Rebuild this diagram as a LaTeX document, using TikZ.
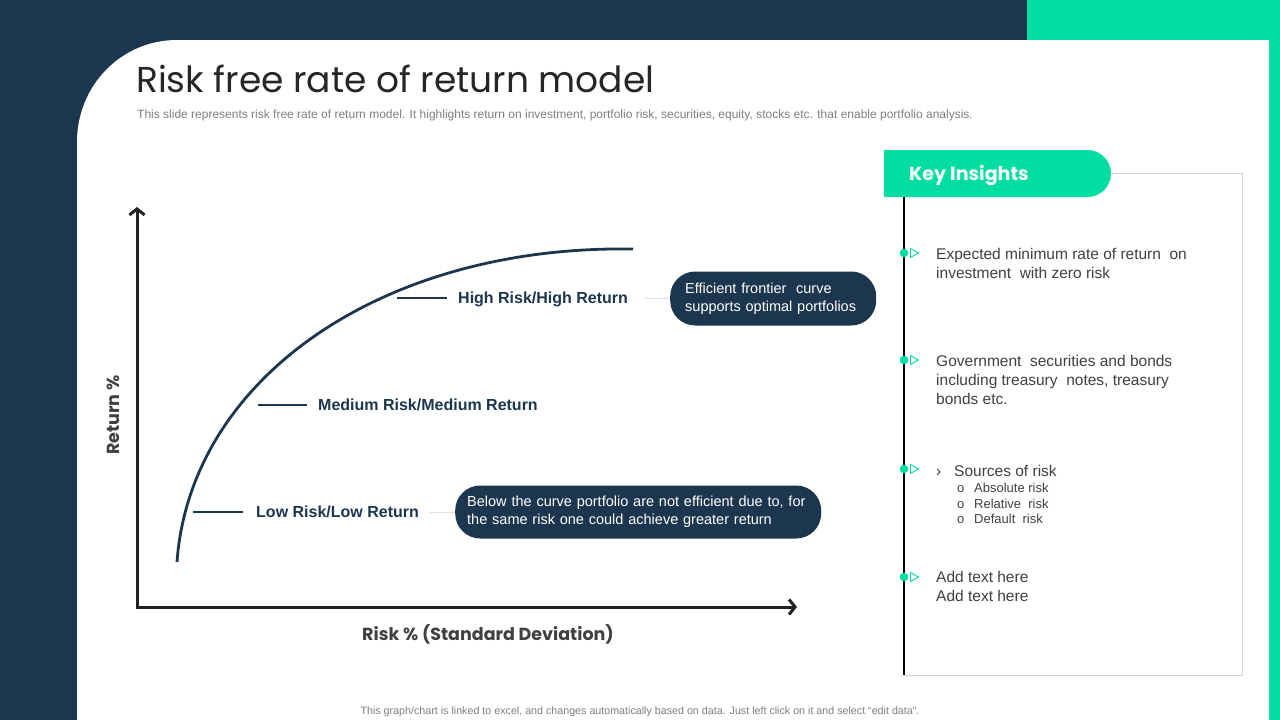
\documentclass[tikz,border=0pt]{standalone}
\usepackage{fontspec}
\setmainfont{Liberation Sans}
\newfontfamily\gothic{Poppins}
\usetikzlibrary{arrows.meta}
\definecolor{navy}{RGB}{28,54,79}
\definecolor{mint}{RGB}{2,221,161}
\definecolor{ink}{RGB}{38,38,38}
\definecolor{bodygray}{RGB}{64,64,64}
\definecolor{subgray}{RGB}{127,127,127}
\definecolor{framegray}{RGB}{212,212,212}
\definecolor{axisink}{RGB}{34,34,34}
\definecolor{conngray}{RGB}{225,225,225}
\tikzset{
  lab/.style={font=\bfseries\fontsize{16}{18}\selectfont, text=navy, inner sep=0pt, text height=11.5pt, text depth=0pt},
  tickline/.style={navy, line width=2pt},
  conn/.style={conngray, line width=1pt},
  pill/.style={fill=navy, text=white, rounded corners=25pt, align=left, inner ysep=0pt,
    font=\fontsize{14.5}{18}\selectfont},
  axlab/.style={font=\gothic\bfseries\fontsize{17.5}{20}\selectfont, text=bodygray, inner sep=0pt},
  body/.style={font=\fontsize{15.5}{19}\selectfont, text=bodygray, anchor=base west, inner sep=0pt, align=left},
  small/.style={font=\fontsize{13}{16}\selectfont, text=bodygray, anchor=base west, inner sep=0pt},
  axisline/.style={axisink, line width=3pt, arrows={Straight Barb[length=6pt,width=15pt]-Straight Barb[length=6pt,width=15pt]}}
}
\begin{document}
\begin{tikzpicture}[x=1pt,y=-1pt]
\useasboundingbox (0,0) rectangle (1280,720);
% background
\fill[navy] (0,0) rectangle (1280,720);
\fill[mint] (1027,0) rectangle (1280,40);
\fill[mint] (1268,40) rectangle (1280,720);
\fill[white] (77,720) -- (77,142) .. controls (77,86) and (121,40) .. (177,40) -- (1269,40) -- (1269,720) -- cycle;

% title
\node[anchor=base west, font=\gothic\fontsize{36}{42}\selectfont, text=ink, inner sep=0pt] (title) at (136,92) {Risk free rate of return model};
\node[anchor=base west, font=\fontsize{12}{14}\selectfont, text=subgray, inner sep=0pt] (subtitle) at (137,118) {This slide represents risk free rate of return model. It highlights return on investment, portfolio risk, securities, equity, stocks etc. that enable portfolio analysis.};

% axes
\coordinate (ytop) at (137,207);
\coordinate (origin) at (137,607);
\coordinate (xend) at (797,607);
\draw[axisline] (ytop) -- (origin) -- (xend);
\node[axlab, rotate=90] (ylab) at (113,415) {Return \%};
\node[axlab] (xlab) at (488,634) {Risk \% (Standard Deviation)};

% curve
\coordinate (cstart) at (177,562);
\coordinate (cend) at (633,249);
\draw[navy, line width=2.8pt] (cstart) .. controls (190,380) and (380,245) .. (cend);

% labels
\node[lab, anchor=west] (hi) at (458,298) {High Risk/High Return};
\draw[tickline] ([xshift=-61pt]hi.west) -- ([xshift=-11pt]hi.west);
\node[pill, anchor=west, minimum width=206pt, minimum height=54pt, text width=176pt, inner xsep=15pt] (p1) at (670,298.5) {Efficient frontier\ \ curve\\supports optimal portfolios};
\draw[conn] ([xshift=16pt]hi.east) -- (p1.west |- hi.east);

\node[lab, anchor=west] (med) at (318,405) {Medium Risk/Medium Return};
\draw[tickline] ([xshift=-60pt]med.west) -- ([xshift=-11pt]med.west);

\node[lab, anchor=west] (lo) at (256,512) {Low Risk/Low Return};
\draw[tickline] ([xshift=-63pt]lo.west) -- ([xshift=-13pt]lo.west);
\node[pill, anchor=west, minimum width=366pt, minimum height=53pt, text width=342pt, inner xsep=12pt] (p2) at (455,512) {Below the curve portfolio are not efficient due to, for\\the same risk one could achieve greater return};
\draw[conn] ([xshift=11pt]lo.east) -- (p2.west |- lo.east);

% key insights panel
\draw[framegray, line width=1pt] (1111,173) -- (1242,173) -- (1242,675) -- (904,675);
\draw[black, line width=1.2pt] (904,197) -- (904,675);
\fill[mint, rounded corners=23.5pt] (884,150) rectangle (1111,197);
\fill[mint] (884,150) rectangle (930,197);
\node[anchor=west, font=\gothic\bfseries\fontsize{19}{22}\selectfont, text=white, inner sep=0pt] (kihead) at (909,175.5) {Key Insights};

\foreach \yy in {253,360,469,577} {
  \fill[mint] (904,\yy) circle (4.3pt);
  \draw[mint, line width=0.9pt, line join=miter] (910.5,\yy-4.5) -- (918.5,\yy) -- (910.5,\yy+4.5) -- cycle;
}

\node[body] (k1) at (936,278) {Expected minimum rate of return\ \ on\\investment\ \ with zero risk};
\node[body] (k2) at (936,404) {Government\ \ securities and bonds\\including treasury\ \ notes, treasury\\bonds etc.};
\node[body] (k3a) at (936,476) {›};
\node[body] (k3) at (954,476) {Sources of risk};
\node[small] (s1o) at (957,492) {o};
\node[small] (s1) at (974,492) {Absolute risk};
\node[small] (s2o) at (957,508) {o};
\node[small] (s2) at (974,508) {Relative\ \ risk};
\node[small] (s3o) at (957,523) {o};
\node[small] (s3) at (974,523) {Default\ \ risk};
\node[body] (k4) at (936,601) {Add text here\\Add text here};

% footer
\node[anchor=base, font=\fontsize{10.7}{12}\selectfont, text=subgray, inner sep=0pt] (footer) at (640,714) {This graph/chart is linked to excel, and changes automatically based on data. Just left click on it and select “edit data”.};
\end{tikzpicture}
\end{document}
